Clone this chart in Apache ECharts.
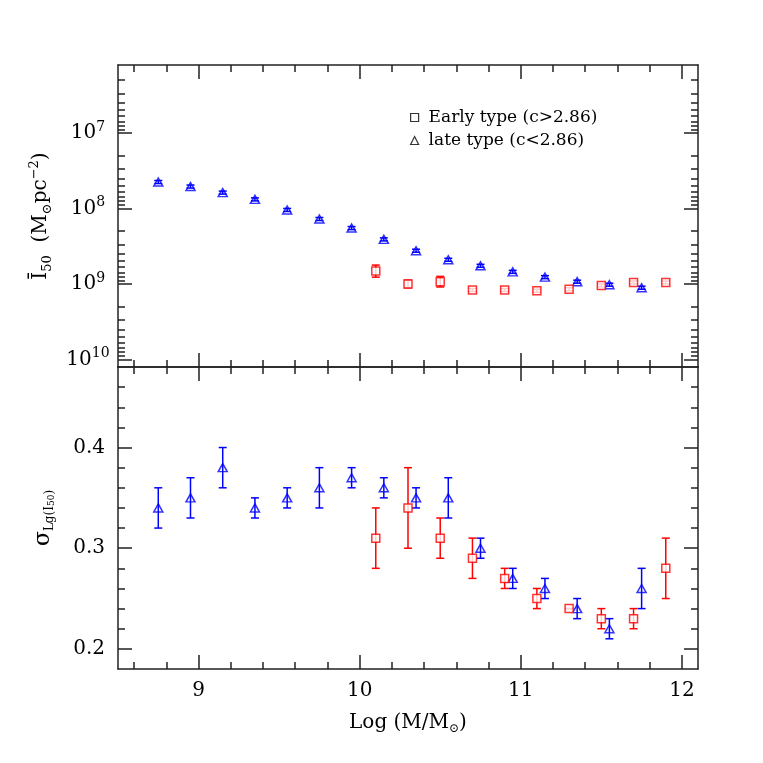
<!DOCTYPE html>
<html>
<head>
<meta charset="utf-8">
<script src="https://cdn.jsdelivr.net/npm/echarts@6/dist/echarts.min.js"></script>
<style>
  html, body { margin: 0; padding: 0; background: #fff; }
  #chart { width: 763px; height: 763px; }
</style>
</head>
<body>
<div id="chart"></div>
<script>
// late type (c<2.86), blue triangles
const lateMass = [8.75, 8.95, 9.15, 9.35, 9.55, 9.75, 9.95, 10.15, 10.35, 10.55, 10.75, 10.95, 11.15, 11.35, 11.55, 11.75]
const lateLogI50 = [7.65, 7.71, 7.79, 7.88, 8.02, 8.14, 8.26, 8.41, 8.56, 8.68, 8.76, 8.84, 8.91, 8.97, 9.01, 9.05]
const lateLogI50Err = [0.02, 0.02, 0.02, 0.02, 0.02, 0.02, 0.02, 0.02, 0.02, 0.02, 0.02, 0.02, 0.02, 0.02, 0.02, 0.02]
const lateSigma = [0.34, 0.35, 0.38, 0.34, 0.35, 0.36, 0.37, 0.36, 0.35, 0.35, 0.30, 0.27, 0.26, 0.24, 0.22, 0.26]
const lateSigmaErr = [0.02, 0.02, 0.02, 0.01, 0.01, 0.02, 0.01, 0.01, 0.01, 0.02, 0.01, 0.01, 0.01, 0.01, 0.01, 0.02]

// early type (c>2.86), red squares
const earlyMass = [10.1, 10.3, 10.5, 10.7, 10.9, 11.1, 11.3, 11.5, 11.7, 11.9]
const earlyLogI50 = [8.83, 9.00, 8.97, 9.08, 9.08, 9.09, 9.07, 9.02, 8.98, 8.98]
const earlyLogI50Err = [0.08, 0.05, 0.07, 0.02, 0.02, 0.02, 0.02, 0.02, 0.02, 0.02]
const earlySigma = [0.31, 0.34, 0.31, 0.29, 0.27, 0.25, 0.24, 0.23, 0.23, 0.28]
const earlySigmaErr = [0.03, 0.04, 0.02, 0.02, 0.01, 0.01, 0, 0.01, 0.01, 0.03]

// ticks
const massMajor = [9, 10, 11, 12]
const massMinor = [8.6, 8.8, 9.2, 9.4, 9.6, 9.8, 10.2, 10.4, 10.6, 10.8, 11.2, 11.4, 11.6, 11.8]
const sigmaMajor = [0.2, 0.3, 0.4]
const sigmaMinor = [0.22, 0.24, 0.26, 0.28, 0.32, 0.34, 0.36, 0.38, 0.42, 0.44, 0.46]
const i50Major = [7, 8, 9, 10]
const i50Labels = ['7', '8', '9', '10']
const i50Minor = []
for (let d = 6; d <= 9; d++) {
  for (let k = 2; k <= 9; k++) {
    const v = d + Math.log10(k)
    if (v > 6.1 && v < 10.1) i50Minor.push(v)
  }
}

const FONT = 'DejaVu Serif'
const BLUE = '#0000ff'
const RED = '#ff0000'
const INK = '#222'
const EARLY = 'Early type (c>2.86)'
const LATE = 'late type (c<2.86)'

// one main axis + minor axis on each side of a grid, ticks pointing inward
function frameAxes(grid, min, max, major, minor, sides, inverse) {
  const base = { gridIndex: grid, type: 'value', min, max, inverse: !!inverse, splitLine: { show: false } }
  const line = { color: INK, width: 1.5 }
  const out = []
  sides.forEach(pos => {
    out.push({ ...base, position: pos,
      axisLine: { show: true, lineStyle: line },
      axisTick: { show: true, inside: true, length: 14, customValues: major, lineStyle: line },
      axisLabel: { show: false } })
    out.push({ ...base, position: pos,
      axisLine: { show: false },
      axisTick: { show: true, inside: true, length: 7, customValues: minor, lineStyle: line },
      axisLabel: { show: false } })
  })
  return out
}

const xAxes = frameAxes(0, 8.5, 12.1, massMajor, massMinor, ['bottom', 'top'])
  .concat(frameAxes(1, 8.5, 12.1, massMajor, massMinor, ['bottom', 'top']))
const yAxes = frameAxes(0, 6.1, 10.1, i50Major, i50Minor, ['left', 'right'], true)
  .concat(frameAxes(1, 0.18, 0.48, sigmaMajor, sigmaMinor, ['left', 'right']))

// labels & names
xAxes[4].axisLabel = { show: true, customValues: massMajor, margin: 12, fontSize: 20, fontFamily: FONT, color: '#000' }
xAxes[4].name = '{n|Log (M/M}{s|⊙}{n|)}'
xAxes[4].nameLocation = 'middle'
xAxes[4].nameGap = 42
xAxes[4].nameTextStyle = { rich: {
  n: { fontSize: 20, fontFamily: FONT, color: '#000', lineHeight: 24 },
  s: { fontSize: 12, fontFamily: FONT, color: '#000', verticalAlign: 'bottom', lineHeight: 18 }
} }

yAxes[0].axisLabel = {
  show: true, customValues: i50Major, margin: 30, align: 'center',
  formatter: v => '{b|10}{s|' + i50Labels[i50Major.indexOf(Math.round(v))] + '}',
  rich: {
    b: { fontSize: 20, fontFamily: FONT, color: '#000', lineHeight: 26 },
    s: { fontSize: 14, fontFamily: FONT, color: '#000', verticalAlign: 'top', lineHeight: 15 }
  }
}
yAxes[0].name = '{n|Ī}{d|50}{n|  (M}{d|⊙}{n|pc}{u|−2}{n|)}'
yAxes[0].nameLocation = 'middle'
yAxes[0].nameRotate = 90
yAxes[0].nameGap = 64
yAxes[0].nameTextStyle = { rich: {
  n: { fontSize: 20, fontFamily: FONT, color: '#000', lineHeight: 26 },
  d: { fontSize: 13, fontFamily: FONT, color: '#000', verticalAlign: 'bottom', lineHeight: 18 },
  u: { fontSize: 13, fontFamily: FONT, color: '#000', verticalAlign: 'top', lineHeight: 14 }
} }

yAxes[4].axisLabel = { show: true, customValues: sigmaMajor, margin: 13, fontSize: 20, fontFamily: FONT, color: '#000',
  formatter: v => v.toFixed(1) }
yAxes[4].name = '{s|σ}{d|Lg(I}{dd|50}{d|)}'
yAxes[4].nameLocation = 'middle'
yAxes[4].nameRotate = 90
yAxes[4].nameGap = 62
yAxes[4].nameTextStyle = { rich: {
  s: { fontSize: 22, fontFamily: FONT, color: '#000', lineHeight: 26 },
  d: { fontSize: 12, fontFamily: FONT, color: '#000', verticalAlign: 'bottom', lineHeight: 18 },
  dd: { fontSize: 9, fontFamily: FONT, color: '#000', verticalAlign: 'bottom', lineHeight: 14 }
} }

function errorBars(xIdx, yIdx, xs, ys, es, color) {
  return {
    type: 'custom', xAxisIndex: xIdx, yAxisIndex: yIdx, z: 2, silent: true,
    itemStyle: { color },
    data: xs.map((x, i) => [x, ys[i], es[i]]),
    encode: { x: 0, y: 1 },
    renderItem(params, api) {
      const x = api.value(0), y = api.value(1), e = api.value(2)
      const hi = api.coord([x, y + e])
      const lo = api.coord([x, y - e])
      const hw = 4
      const style = { stroke: color, lineWidth: 1.5 }
      return { type: 'group', children: [
        { type: 'line', shape: { x1: hi[0], y1: hi[1], x2: lo[0], y2: lo[1] }, style },
        { type: 'line', shape: { x1: hi[0] - hw, y1: hi[1], x2: hi[0] + hw, y2: hi[1] }, style },
        { type: 'line', shape: { x1: lo[0] - hw, y1: lo[1], x2: lo[0] + hw, y2: lo[1] }, style }
      ] }
    }
  }
}

function points(name, xIdx, yIdx, xs, ys, symbol, size, color, fill) {
  return {
    type: 'scatter', name, xAxisIndex: xIdx, yAxisIndex: yIdx, z: 3, symbol, symbolSize: size,
    itemStyle: { color: fill, borderColor: color, borderWidth: 1.5 },
    data: xs.map((x, i) => [x, ys[i]])
  }
}

const series = [
  errorBars(0, 0, lateMass, lateLogI50, lateLogI50Err, BLUE),
  errorBars(0, 0, earlyMass, earlyLogI50, earlyLogI50Err, RED),
  points(LATE, 0, 0, lateMass, lateLogI50, 'triangle', [9, 8], BLUE, 'rgba(0,0,0,0)'),
  points(EARLY, 0, 0, earlyMass, earlyLogI50, 'rect', 8, RED, '#fff'),
  errorBars(4, 4, lateMass, lateSigma, lateSigmaErr, BLUE),
  errorBars(4, 4, earlyMass, earlySigma, earlySigmaErr, RED),
  points(LATE, 4, 4, lateMass, lateSigma, 'triangle', [9, 8], BLUE, 'rgba(0,0,0,0)'),
  points(EARLY, 4, 4, earlyMass, earlySigma, 'rect', 8, RED, '#fff')
]

const chart = echarts.init(document.getElementById('chart'), null, { renderer: 'canvas' })
chart.setOption({
  animation: false,
  backgroundColor: '#fff',
  grid: [
    { left: 118, top: 65, width: 580, height: 302 },
    { left: 118, top: 367, width: 580, height: 302 }
  ],
  legend: {
    orient: 'vertical', left: 405, top: 104, itemWidth: 8, itemHeight: 8, itemGap: 6,
    selectedMode: false,
    textStyle: { fontSize: 17, fontFamily: FONT, color: '#000', lineHeight: 17, padding: [0, 0, 0, 5] },
    data: [
      { name: EARLY, icon: 'rect', itemStyle: { color: '#fff', borderColor: '#000', borderWidth: 1.2 } },
      { name: LATE, icon: 'triangle', itemStyle: { color: '#fff', borderColor: '#000', borderWidth: 1.2 } }
    ]
  },
  xAxis: xAxes,
  yAxis: yAxes,
  series
})
</script>
</body>
</html>
